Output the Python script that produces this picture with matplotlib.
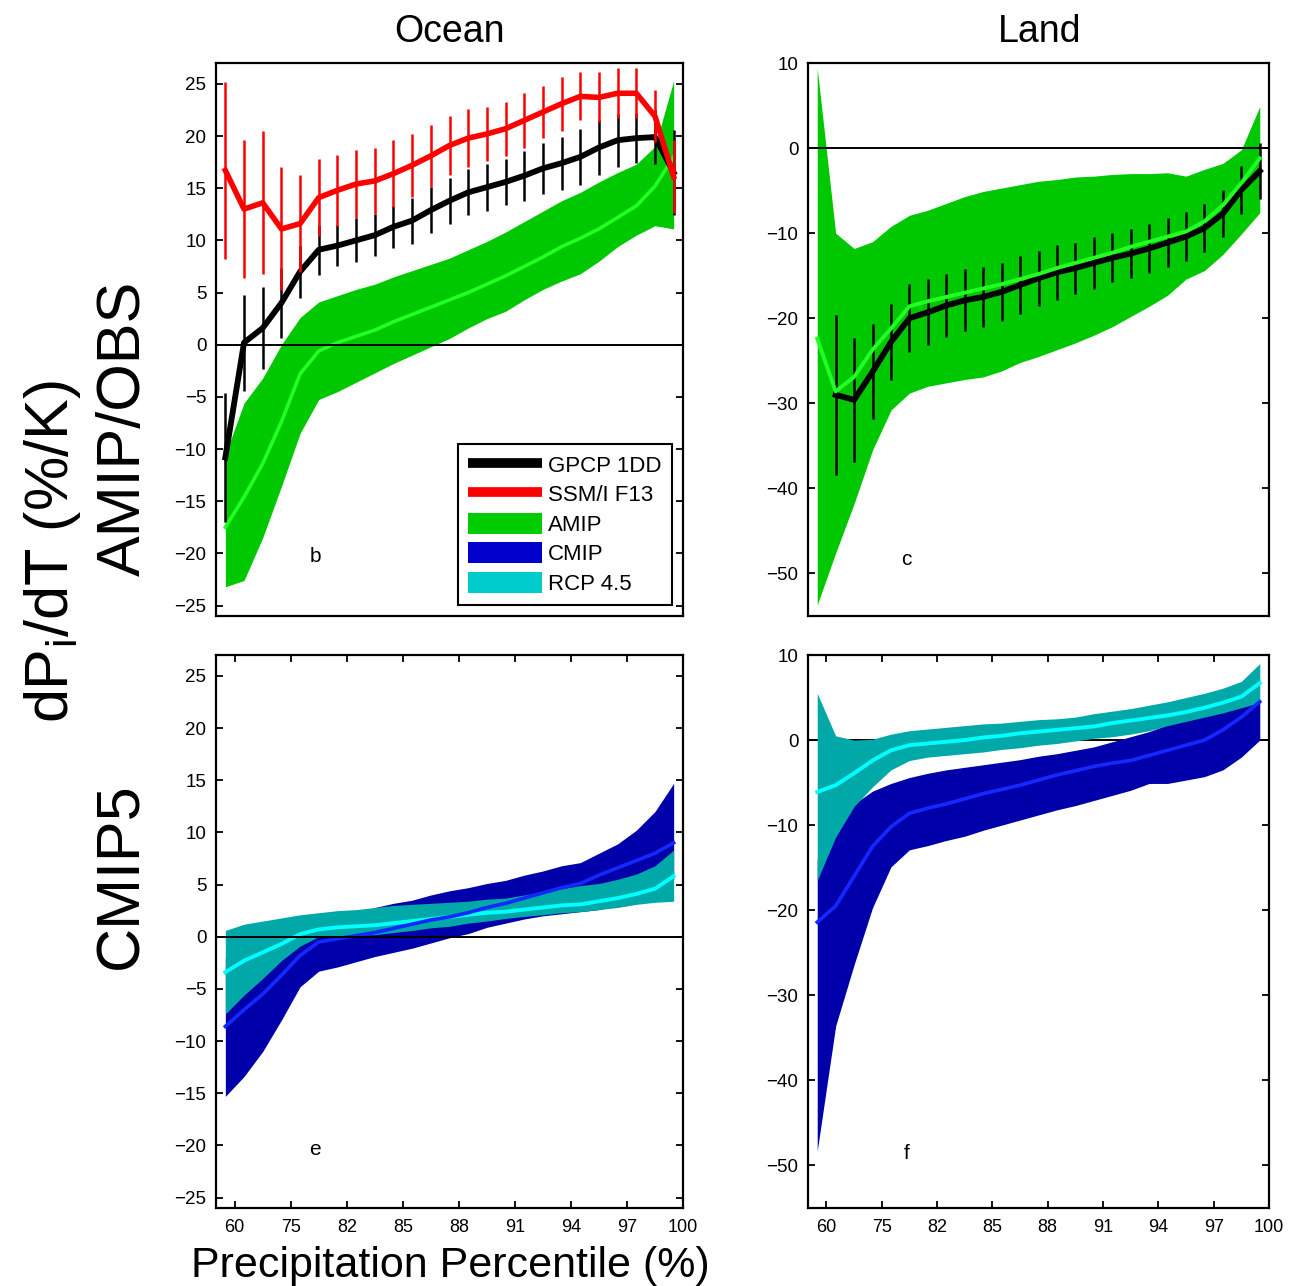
import matplotlib
matplotlib.use('Agg')
import matplotlib.pyplot as plt
from matplotlib.patches import Patch
from matplotlib.lines import Line2D
import numpy as np

plt.rcParams['font.family'] = ['Liberation Sans', 'DejaVu Sans']
plt.rcParams['mathtext.fontset'] = 'custom'
plt.rcParams['mathtext.rm'] = 'Liberation Sans'
plt.rcParams['mathtext.it'] = 'Liberation Sans:italic'

# 25 percentile bins per panel, one tick every third bin
x = np.arange(25)
tick_pos = np.arange(0.5, 25, 3)
tick_labels = ['60', '75', '82', '85', '88', '91', '94', '97', '100']

# ---- Ocean, AMIP / obs (panel b)
gpcp_oc = [-10.8, 0.2, 1.6, 4.0, 7.0, 9.1, 9.5, 10.0, 10.5, 11.3, 11.9, 12.9, 13.8,
           14.6, 15.1, 15.6, 16.2, 16.9, 17.4, 18.0, 18.9, 19.6, 19.8, 19.9, 16.5]
gpcp_oc_err = [6.2, 4.6, 3.9, 3.4, 2.5, 2.4, 2.0, 2.1, 2.0, 2.0, 2.2, 2.2, 2.2,
               2.2, 2.25, 2.2, 2.4, 2.45, 2.55, 2.7, 2.6, 2.55, 2.4, 2.6, 4.1]
ssmi_oc = [16.7, 13.0, 13.6, 11.1, 11.6, 14.1, 14.8, 15.4, 15.7, 16.4, 17.2, 18.1, 19.1,
           19.8, 20.2, 20.7, 21.5, 22.3, 23.1, 23.8, 23.7, 24.1, 24.1, 21.9, 16.1]
ssmi_oc_err = [8.5, 6.6, 6.85, 5.9, 4.65, 3.7, 3.4, 3.3, 3.2, 3.2, 3.0, 3.0, 2.8,
               2.8, 2.6, 2.6, 2.6, 2.5, 2.6, 2.3, 2.4, 2.4, 2.4, 2.5, 3.5]
amip_oc_lo = [-23.2, -22.6, -18.5, -13.6, -8.5, -5.25, -4.5, -3.6, -2.7, -1.8, -1.0, -0.2, 0.6,
              1.6, 2.5, 3.2, 4.3, 5.3, 6.1, 6.8, 8.0, 9.4, 10.5, 11.4, 11.1]
amip_oc_hi = [-10.5, -5.6, -3.2, 0.0, 2.6, 4.1, 4.7, 5.3, 5.8, 6.5, 7.1, 7.7, 8.3,
              9.1, 9.9, 10.8, 11.8, 12.8, 13.8, 14.6, 15.6, 16.5, 17.3, 19.0, 25.3]
amip_oc_mid = [-17.5, -14.6, -11.4, -7.4, -2.8, -0.6, 0.2, 0.8, 1.4, 2.2, 2.9, 3.6, 4.3,
               5.0, 5.8, 6.6, 7.5, 8.4, 9.4, 10.2, 11.1, 12.2, 13.3, 15.2, 18.0]

# ---- Land, AMIP / obs (panel c)
gpcp_la = [np.nan, -29.0, -29.6, -26.3, -22.8, -20.0, -19.3, -18.5, -17.9, -17.5, -16.9, -16.1, -15.3,
           -14.6, -14.1, -13.5, -12.9, -12.4, -11.8, -11.1, -10.4, -9.4, -7.7, -4.9, -2.7]
gpcp_la_err = [np.nan, 9.4, 7.25, 5.6, 4.5, 4.0, 3.9, 3.7, 3.65, 3.5, 3.4, 3.4, 3.25,
               3.2, 3.0, 3.1, 2.9, 2.9, 2.9, 2.9, 2.9, 2.8, 2.8, 2.85, 3.3]
amip_la_lo = [-53.7, -47.6, -41.8, -35.5, -30.8, -28.8, -28.0, -27.6, -27.2, -26.9, -26.2, -25.2, -24.5,
              -23.7, -22.9, -22.0, -21.0, -19.8, -18.6, -17.3, -15.4, -14.4, -12.5, -10.1, -7.6]
amip_la_hi = [9.4, -10.0, -11.8, -11.0, -9.2, -7.9, -7.3, -6.5, -5.7, -5.1, -4.7, -4.3, -3.9,
              -3.7, -3.4, -3.3, -3.1, -3.0, -3.0, -2.9, -3.3, -2.5, -1.8, -0.2, 4.9]
amip_la_mid = [-22.4, -28.6, -26.9, -23.7, -21.2, -18.6, -18.0, -17.5, -17.0, -16.5, -16.0, -15.4, -14.8,
               -14.1, -13.5, -12.9, -12.3, -11.6, -11.0, -10.4, -9.8, -8.6, -6.7, -4.1, -1.2]

# ---- Ocean, CMIP5 (panel e)
cmip_oc_lo = [-15.3, -13.4, -11.0, -8.0, -4.8, -3.3, -2.9, -2.4, -1.9, -1.5, -1.1, -0.6, -0.1,
              0.3, 0.9, 1.3, 1.7, 2.0, 2.2, 2.4, 2.6, 3.0, 3.5, 4.3, 5.5]
cmip_oc_hi = [-2.0, -0.5, 0.3, 0.8, 1.2, 1.5, 1.8, 2.1, 2.8, 3.2, 3.5, 4.0, 4.4,
              4.7, 5.1, 5.4, 5.9, 6.3, 6.8, 7.1, 8.0, 8.9, 10.2, 12.0, 14.7]
cmip_oc_mid = [-8.6, -7.0, -5.5, -3.7, -1.8, -0.5, -0.2, 0.1, 0.4, 0.8, 1.2, 1.6, 1.9,
               2.3, 2.8, 3.2, 3.7, 4.2, 4.7, 5.1, 5.9, 6.6, 7.3, 8.0, 9.0]
rcp_oc_lo = [-7.4, -5.6, -4.0, -2.3, -0.9, 0.0, 0.1, 0.15, 0.2, 0.4, 0.6, 0.85, 1.0,
             1.3, 1.5, 1.75, 1.95, 2.1, 2.3, 2.4, 2.6, 2.8, 3.1, 3.3, 3.4]
rcp_oc_hi = [0.6, 1.2, 1.5, 1.8, 2.1, 2.3, 2.5, 2.6, 2.8, 3.0, 3.1, 3.2, 3.3,
             3.4, 3.6, 3.7, 4.0, 4.3, 4.6, 4.9, 5.1, 5.5, 6.0, 6.8, 8.3]
rcp_oc_mid = [-3.4, -2.3, -1.5, -0.7, 0.25, 0.7, 0.9, 1.0, 1.1, 1.3, 1.5, 1.7, 1.9,
              2.1, 2.3, 2.4, 2.6, 2.8, 3.0, 3.1, 3.4, 3.7, 4.1, 4.6, 5.8]

# ---- Land, CMIP5 (panel f)
cmip_la_lo = [-48.3, -33.6, -26.4, -19.7, -14.9, -12.9, -12.4, -11.8, -11.3, -10.6, -10.0, -9.4, -8.8,
              -8.2, -7.7, -7.1, -6.5, -5.9, -5.1, -5.1, -4.7, -4.3, -3.5, -2.0, 0.0]
cmip_la_hi = [-14.0, -10.0, -7.5, -6.0, -5.1, -4.4, -3.9, -3.5, -3.2, -2.9, -2.6, -2.3, -1.9,
              -1.6, -1.2, -0.8, -0.2, 0.4, 1.0, 1.8, 2.3, 2.8, 3.3, 3.9, 4.7]
cmip_la_mid = [-21.4, -19.5, -16.0, -12.5, -10.2, -8.6, -8.0, -7.5, -6.9, -6.3, -5.8, -5.3, -4.7,
               -4.1, -3.6, -3.1, -2.7, -2.4, -1.8, -1.2, -0.6, 0.0, 1.2, 2.7, 4.5]
rcp_la_lo = [-16.5, -11.4, -7.8, -5.5, -3.5, -2.4, -2.0, -1.8, -1.6, -1.4, -1.1, -0.9, -0.6,
             -0.4, -0.1, 0.2, 0.4, 0.7, 1.1, 1.7, 2.2, 2.7, 3.2, 3.8, 4.4]
rcp_la_hi = [5.5, 0.5, 0.0, 0.1, 0.7, 1.1, 1.3, 1.5, 1.7, 1.9, 2.0, 2.2, 2.4,
             2.5, 2.7, 3.1, 3.4, 3.7, 4.1, 4.5, 5.0, 5.5, 6.1, 6.9, 9.0]
rcp_la_mid = [-6.1, -5.3, -3.9, -2.4, -1.2, -0.6, -0.4, -0.2, 0.0, 0.3, 0.5, 0.8, 1.0,
              1.2, 1.4, 1.6, 2.0, 2.3, 2.6, 2.9, 3.3, 3.8, 4.4, 5.1, 6.7]

# colours
c_amip = '#00c800'
c_amip_line = '#22ff22'
c_cmip = '#0000aa'
c_cmip_line = '#1428ff'
c_rcp = '#00a8a8'
c_rcp_line = '#00ffff'

W, H = 1293, 1286
fig = plt.figure(figsize=(W / 100, H / 100), dpi=100)


def add_ax(left, top, right, bottom):
    return fig.add_axes([left / W, (H - bottom) / H, (right - left) / W, (bottom - top) / H])


ax_b = add_ax(216, 63, 683, 616)
ax_c = add_ax(808, 63, 1269, 616)
ax_e = add_ax(216, 655, 683, 1208)
ax_f = add_ax(808, 655, 1269, 1208)


def style(ax, ylim, yticks, bottom_row, zero_z=3):
    ax.set_xlim(-0.5, 24.5)
    ax.set_ylim(*ylim)
    ax.set_yticks(yticks)
    ax.axhline(0, color='k', lw=1.4, zorder=zero_z)
    if bottom_row:
        ax.set_xticks(tick_pos)
        ax.set_xticklabels(tick_labels)
        ax.tick_params(axis='x', top=True, bottom=True, direction='in', length=5,
                       width=1.3, labelsize=13, pad=8)
    else:
        ax.set_xticks([])
    ax.tick_params(axis='y', left=True, right=True, direction='in', length=5,
                   width=1.3, labelsize=13.5, pad=7)
    for s in ax.spines.values():
        s.set_linewidth(1.6)


# panel b
ax_b.fill_between(x, amip_oc_lo, amip_oc_hi, color=c_amip, lw=0, zorder=1)
ax_b.plot(x, amip_oc_mid, color=c_amip_line, lw=2.6, zorder=2)
ax_b.errorbar(x, gpcp_oc, yerr=gpcp_oc_err, color='k', lw=4.2, elinewidth=1.8, capsize=0, zorder=4)
ax_b.errorbar(x, ssmi_oc, yerr=ssmi_oc_err, color='#ff0000', lw=4.0, elinewidth=1.8, capsize=0, zorder=5)
style(ax_b, (-26, 27), np.arange(-25, 26, 5), False)
ax_b.text(4.8, -20.8, 'b', fontsize=15, ha='center', va='baseline')

handles = [Line2D([], [], color='k', lw=7, solid_capstyle='butt'),
           Line2D([], [], color='#ff0000', lw=7, solid_capstyle='butt'),
           Patch(facecolor='#00cc00', edgecolor='none'),
           Patch(facecolor='#0000cc', edgecolor='none'),
           Patch(facecolor='#00cccc', edgecolor='none')]
leg = ax_b.legend(handles, ['GPCP 1DD', 'SSM/I F13', 'AMIP', 'CMIP', 'RCP 4.5'],
                  loc='lower right', bbox_to_anchor=(0.976, 0.02), borderaxespad=0,
                  fontsize=16, handlelength=3.3, handleheight=1.05, labelspacing=0.3,
                  handletextpad=0.3, borderpad=0.45, fancybox=False, framealpha=1,
                  edgecolor='k')
leg.get_frame().set_linewidth(1.5)
leg.set_zorder(10)

# panel c
ax_c.fill_between(x, amip_la_lo, amip_la_hi, color=c_amip, lw=0, zorder=1)
ax_c.plot(x, amip_la_mid, color=c_amip_line, lw=2.8, zorder=5)
ax_c.errorbar(x, gpcp_la, yerr=gpcp_la_err, color='k', lw=4.2, elinewidth=1.8, capsize=0, zorder=4)
style(ax_c, (-55, 10), np.arange(-50, 11, 10), False)
ax_c.text(4.85, -49.0, 'c', fontsize=15, ha='center', va='baseline')

# panel e
ax_e.fill_between(x, cmip_oc_lo, cmip_oc_hi, color=c_cmip, lw=0, zorder=1)
ax_e.fill_between(x, rcp_oc_lo, rcp_oc_hi, color=c_rcp, lw=0, zorder=1.5)
ax_e.plot(x, rcp_oc_mid, color=c_rcp_line, lw=2.8, zorder=2)
ax_e.plot(x, cmip_oc_mid, color=c_cmip_line, lw=2.6, zorder=2.5)
style(ax_e, (-26, 27), np.arange(-25, 26, 5), True)
ax_e.text(4.8, -20.9, 'e', fontsize=15, ha='center', va='baseline')

# panel f
ax_f.fill_between(x, cmip_la_lo, cmip_la_hi, color=c_cmip, lw=0, zorder=1)
ax_f.fill_between(x, rcp_la_lo, rcp_la_hi, color=c_rcp, lw=0, zorder=1.5)
ax_f.plot(x, rcp_la_mid, color=c_rcp_line, lw=2.8, zorder=2)
ax_f.plot(x, cmip_la_mid, color=c_cmip_line, lw=2.6, zorder=2.5)
style(ax_f, (-55, 10), np.arange(-50, 11, 10), True, zero_z=0.5)
ax_f.text(4.85, -49.2, 'f', fontsize=15, ha='center', va='baseline')

# column titles, row labels, axis labels
fig.text(450 / W, (H - 42) / H, 'Ocean', fontsize=27, ha='center', va='baseline')
fig.text(1040 / W, (H - 42) / H, 'Land', fontsize=27, ha='center', va='baseline')
fig.text(450 / W, (H - 1277) / H, 'Precipitation Percentile (%)', fontsize=31,
         ha='center', va='baseline')
fig.text(53 / W, (H - 552) / H, r'dP$_\mathrm{i}$/dT (%/K)', fontsize=44,
         rotation=90, ha='center', va='center')
fig.text(124 / W, (H - 428) / H, 'AMIP/OBS', fontsize=44, rotation=90,
         ha='center', va='center')
fig.text(122 / W, (H - 876) / H, 'CMIP5', fontsize=44, rotation=90,
         ha='center', va='center')

fig.savefig('out.png', dpi=100)
